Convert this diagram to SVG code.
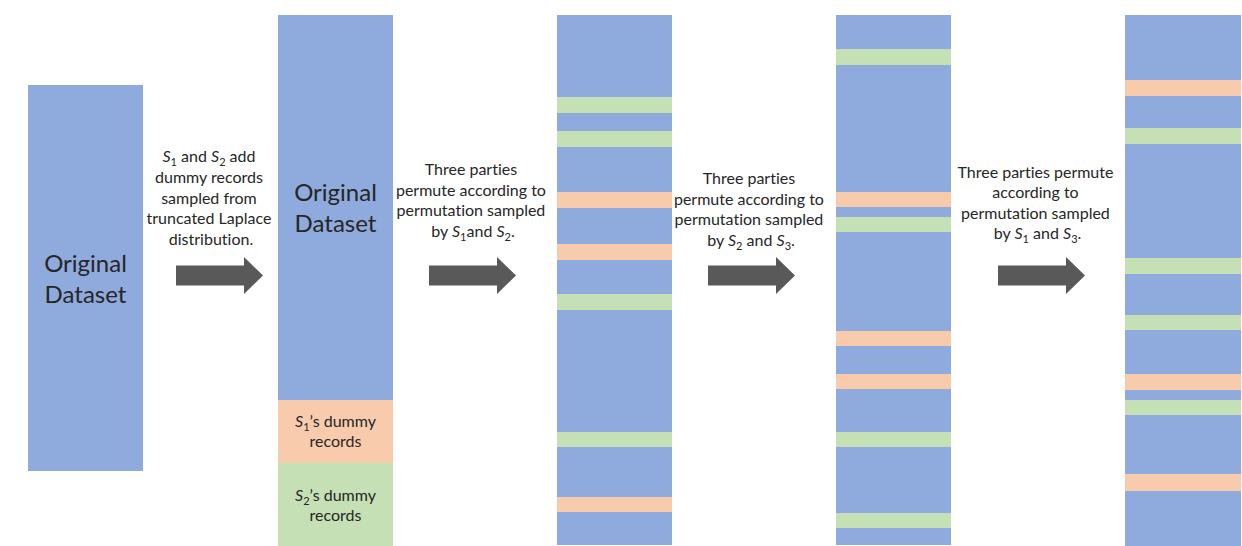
<svg xmlns="http://www.w3.org/2000/svg" width="1242" height="546" viewBox="0 0 1242 546">
<style>
.b{fill:#8FAADC}
.o{fill:#F8CBAD}
.g{fill:#C5E0B4}
.t{font-family:Lato,"Liberation Sans",sans-serif;fill:#262626;text-anchor:middle;font-variant-ligatures:none}
.s{font-size:16px}
.l{font-size:24px}
.i{font-style:italic}
.arr{fill:#595959}
</style>
<defs>
<path id="arrow" d="M0,-10 H68 V-18.5 L87,0 L68,18.5 V10 H0 Z"/>
</defs>
<rect width="1242" height="546" fill="#fff"/>

<g id="original-dataset">
<rect class="b" x="28" y="85" width="115" height="386"/>
<text class="t l"><tspan x="85.5" y="272">Original</tspan><tspan x="85.5" y="303">Dataset</tspan></text>
</g>

<g id="label-add-dummy">
<text class="t s">
<tspan x="211" y="162"><tspan class="i">S</tspan><tspan font-size="11" dy="4">1</tspan><tspan dy="-4"> and </tspan><tspan class="i">S</tspan><tspan font-size="11" dy="4">2</tspan><tspan dy="-4"> add</tspan></tspan>
<tspan x="211" y="183">dummy records</tspan>
<tspan x="211" y="204">sampled from</tspan>
<tspan x="211" y="224">truncated Laplace</tspan>
<tspan x="211" y="245">distribution.</tspan>
</text>
</g>

<g id="padded-dataset">
<rect class="b" x="278" y="15" width="115" height="385"/>
<rect class="o" x="278" y="400" width="115" height="63"/>
<rect class="g" x="278" y="463" width="115" height="83"/>
<text class="t l"><tspan x="335.5" y="201">Original</tspan><tspan x="335.5" y="232">Dataset</tspan></text>
<text class="t s"><tspan x="335.5" y="427"><tspan class="i">S</tspan><tspan font-size="11" dy="4">1</tspan><tspan dy="-4">’s dummy</tspan></tspan><tspan x="335.5" y="447">records</tspan></text>
<text class="t s"><tspan x="335.5" y="501"><tspan class="i">S</tspan><tspan font-size="11" dy="4">2</tspan><tspan dy="-4">’s dummy</tspan></tspan><tspan x="335.5" y="521">records</tspan></text>
</g>

<g id="label-permute-1">
<text class="t s">
<tspan x="473" y="175">Three parties</tspan>
<tspan x="473" y="195.5">permute according to</tspan>
<tspan x="473" y="216">permutation sampled</tspan>
<tspan x="473" y="236.5">by <tspan class="i">S</tspan><tspan font-size="11" dy="4">1</tspan><tspan dy="-4">and </tspan><tspan class="i">S</tspan><tspan font-size="11" dy="4">2</tspan><tspan dy="-4">.</tspan></tspan>
</text>
</g>

<g id="permuted-1">
<rect class="b" x="557" y="15" width="115" height="530"/>
<rect class="g" x="557" y="97" width="115" height="16"/>
<rect class="g" x="557" y="131" width="115" height="16"/>
<rect class="o" x="557" y="192" width="115" height="16"/>
<rect class="o" x="557" y="244" width="115" height="16"/>
<rect class="g" x="557" y="294" width="115" height="16"/>
<rect class="g" x="557" y="432" width="115" height="15"/>
<rect class="o" x="557" y="497" width="115" height="15"/>
</g>

<g id="label-permute-2">
<text class="t s">
<tspan x="751" y="184">Three parties</tspan>
<tspan x="751" y="204.5">permute according to</tspan>
<tspan x="751" y="225">permutation sampled</tspan>
<tspan x="751" y="245.5">by <tspan class="i">S</tspan><tspan font-size="11" dy="4">2</tspan><tspan dy="-4"> and </tspan><tspan class="i">S</tspan><tspan font-size="11" dy="4">3</tspan><tspan dy="-4">.</tspan></tspan>
</text>
</g>

<g id="permuted-2">
<rect class="b" x="836" y="15" width="115" height="530"/>
<rect class="g" x="836" y="49" width="115" height="16"/>
<rect class="o" x="836" y="192" width="115" height="15"/>
<rect class="g" x="836" y="217" width="115" height="15"/>
<rect class="o" x="836" y="331" width="115" height="15"/>
<rect class="o" x="836" y="374" width="115" height="15"/>
<rect class="g" x="836" y="432" width="115" height="15"/>
<rect class="g" x="836" y="513" width="115" height="15"/>
</g>

<g id="label-permute-3">
<text class="t s">
<tspan x="1037.5" y="177.5">Three parties permute</tspan>
<tspan x="1037.5" y="198">according to</tspan>
<tspan x="1037.5" y="218.5">permutation sampled</tspan>
<tspan x="1037.5" y="239">by <tspan class="i">S</tspan><tspan font-size="11" dy="4">1</tspan><tspan dy="-4"> and </tspan><tspan class="i">S</tspan><tspan font-size="11" dy="4">3</tspan><tspan dy="-4">.</tspan></tspan>
</text>
</g>

<g id="permuted-3">
<rect class="b" x="1125" y="15" width="116" height="531"/>
<rect class="o" x="1125" y="80" width="116" height="16"/>
<rect class="g" x="1125" y="128" width="116" height="16"/>
<rect class="g" x="1125" y="258" width="116" height="16"/>
<rect class="g" x="1125" y="315" width="116" height="15"/>
<rect class="o" x="1125" y="374" width="116" height="16"/>
<rect class="g" x="1125" y="400" width="116" height="15"/>
<rect class="o" x="1125" y="474" width="116" height="17"/>
</g>

<g id="connectors" class="arr">
<use href="#arrow" x="176" y="275.5"/>
<use href="#arrow" x="429" y="275.5"/>
<use href="#arrow" x="708" y="275.5"/>
<use href="#arrow" x="998" y="275.5"/>
</g>
</svg>
